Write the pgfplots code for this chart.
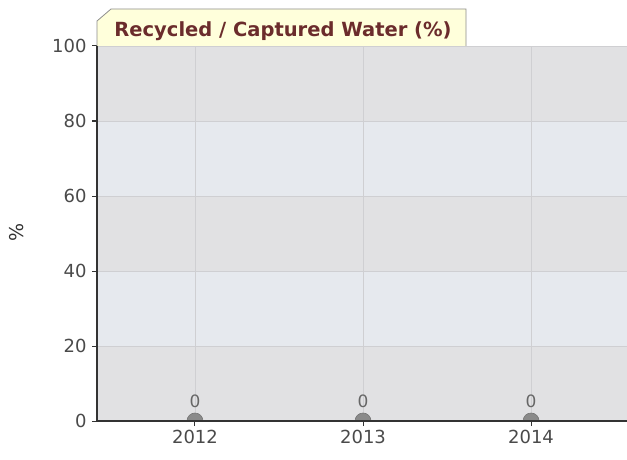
\documentclass[border=0pt]{standalone}
\usepackage{fontspec}
\setmainfont{DejaVu Sans}
\usepackage{pgfplots}
\pgfplotsset{compat=1.18}
\definecolor{bandA}{HTML}{E1E1E3}
\definecolor{bandB}{HTML}{E6E9EE}
\definecolor{gridc}{HTML}{CFCFD2}
\definecolor{tabfill}{HTML}{FFFFDB}
\definecolor{tabtext}{HTML}{6B2C2C}
\definecolor{markc}{HTML}{8A8A8A}
\definecolor{labc}{HTML}{4A4A4A}
\pgfdeclareplotmark{halfcirc}{%
  \pgfpathmoveto{\pgfqpoint{\pgfplotmarksize}{0pt}}%
  \pgfpatharc{0}{180}{\pgfplotmarksize}%
  \pgfpathclose
  \pgfusepathqfillstroke}
\begin{document}
\begin{tikzpicture}
\begin{axis}[
  set layers,
  at={(97pt,38pt)}, anchor=south west,
  scale only axis, width=530pt, height=375pt,
  xmin=-0.583, xmax=2.571, ymin=0, ymax=100,
  xtick={0,1,2}, xticklabels={2012,2013,2014},
  ytick={0,20,40,60,80,100},
  axis x line*=bottom, axis y line*=left,
  axis line style={draw=black!80, line width=1.3pt},
  tick style={draw=black!80, line width=1pt},
  tick align=outside, major tick length=5pt,
  grid=major, grid style={draw=gridc, line width=0.7pt},
  ticklabel style={font=\fontsize{18}{18}\selectfont, text=labc},
  yticklabel style={xshift=-2pt},
  xticklabel style={yshift=-1pt},
  /pgf/number format/assume math mode=true,
]
\begin{pgfonlayer}{axis background}
\fill[bandA] (rel axis cs:0,0) rectangle (rel axis cs:1,0.2);
\fill[bandB] (rel axis cs:0,0.2) rectangle (rel axis cs:1,0.4);
\fill[bandA] (rel axis cs:0,0.4) rectangle (rel axis cs:1,0.6);
\fill[bandB] (rel axis cs:0,0.6) rectangle (rel axis cs:1,0.8);
\fill[bandA] (rel axis cs:0,0.8) rectangle (rel axis cs:1,1);
\end{pgfonlayer}
\addplot[only marks, mark=halfcirc, mark size=8pt, mark options={fill=markc, draw=markc!85!black, line width=0.6pt},
  nodes near coords,
  nodes near coords style={font=\fontsize{17}{17}\selectfont, text=black!60, anchor=south, inner sep=0pt, yshift=13pt}]
  coordinates {(0,0) (1,0) (2,0)};
\begin{pgfonlayer}{axis foreground}
\draw[black!80, line width=1.3pt] (rel axis cs:0,0) -- (rel axis cs:1,0);
\end{pgfonlayer}
\end{axis}
\draw[fill=tabfill, draw=black!45, line width=0.8pt] (97pt,413pt) -- (97pt,438pt) -- (111pt,450pt) -- (466pt,450pt) -- (466pt,413pt);
\node[text=tabtext, font=\bfseries\fontsize{19.5}{19.5}\selectfont] at (283pt,428pt) {Recycled / Captured Water (\%)};
\node[rotate=90, text=black!80, font=\fontsize{19}{19}\selectfont] at (17pt,227pt) {\%};
\pgfresetboundingbox
\useasboundingbox (0pt,0pt) rectangle (627pt,459pt);
\end{tikzpicture}
\end{document}
